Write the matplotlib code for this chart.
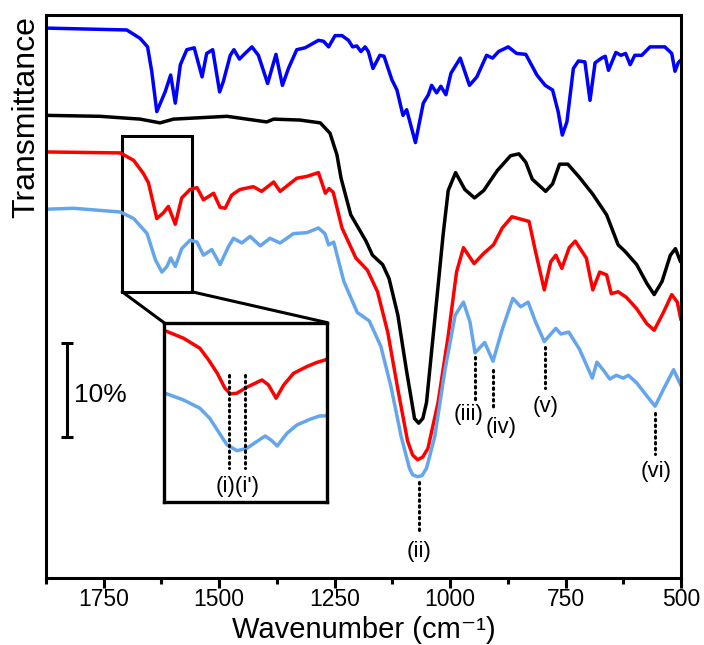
import matplotlib
matplotlib.use("Agg")
import matplotlib.pyplot as plt
from matplotlib.patches import Rectangle, ConnectionPatch
from matplotlib.ticker import MultipleLocator

plt.rcParams['font.family'] = ['Liberation Sans', 'DejaVu Sans']

# spectra: wavenumber (cm-1) and offset transmittance (%)
blue_wn = [1873, 1700, 1671, 1655, 1646, 1635, 1617, 1605, 1595, 1584, 1570, 1554, 1537, 1527,
           1514, 1499, 1491, 1476, 1468, 1456, 1446, 1429, 1415, 1395, 1377, 1363, 1350, 1332,
           1314, 1303, 1285, 1274, 1263, 1249, 1234, 1220, 1211, 1202, 1193, 1184, 1177, 1167,
           1152, 1143, 1126, 1115, 1102, 1094, 1075, 1058, 1047, 1040, 1029, 1020, 1009, 998,
           978, 958, 942, 921, 908, 895, 874, 856, 836, 812, 794, 778, 766, 757, 747, 733, 722,
           708, 697, 686, 672, 664, 657, 641, 630, 620, 610, 600, 585, 567, 553, 535, 520, 513,
           506, 500]
blue_t = [58.6, 58.4, 57.5, 56.6, 54.0, 49.7, 51.8, 53.6, 50.6, 54.7, 56.3, 56.5, 53.4, 55.9,
          56.3, 51.8, 52.9, 55.7, 56.3, 55.3, 55.8, 56.6, 55.7, 52.7, 55.8, 52.5, 54.3, 56.3,
          56.5, 56.8, 57.3, 57.2, 56.6, 57.8, 57.8, 57.3, 56.6, 56.7, 56.1, 56.6, 56.1, 54.3,
          55.7, 55.6, 53.1, 52.0, 49.3, 49.9, 46.4, 50.6, 51.5, 52.5, 51.7, 52.4, 51.5, 53.8,
          55.4, 52.5, 53.4, 55.7, 55.4, 56.1, 56.6, 55.9, 55.8, 53.6, 52.5, 52.0, 49.7, 47.2,
          48.6, 54.3, 55.1, 55.0, 50.9, 54.9, 55.4, 55.6, 54.1, 56.0, 55.7, 55.9, 54.7, 55.7,
          55.7, 56.6, 56.6, 56.6, 55.9, 54.0, 54.9, 55.2]

black_wn = [1873, 1758, 1671, 1628, 1599, 1483, 1397, 1382, 1325, 1281, 1260, 1245, 1236, 1215,
            1182, 1168, 1146, 1132, 1113, 1095, 1081, 1077, 1068, 1059, 1051, 1033, 1015, 1004,
            988, 968, 947, 927, 898, 869, 851, 836, 822, 793, 778, 763, 745, 720, 691, 661, 636,
            621, 596, 574, 558, 541, 523, 512, 501]
black_t = [49.3, 49.2, 48.9, 48.5, 48.9, 49.2, 48.6, 48.9, 48.8, 48.5, 47.4, 45.1, 42.6, 38.7,
           35.9, 34.4, 33.4, 31.9, 28.0, 22.3, 18.2, 17.0, 16.5, 17.0, 18.7, 27.6, 36.6, 41.3,
           43.2, 41.4, 40.5, 41.3, 43.4, 45.0, 45.2, 44.3, 42.5, 41.2, 42.0, 44.1, 44.1, 42.7,
           40.9, 38.7, 35.5, 34.8, 33.4, 31.4, 30.2, 31.6, 34.4, 35.1, 33.7]

red_wn = [1873, 1714, 1685, 1664, 1653, 1635, 1621, 1610, 1595, 1581, 1563, 1548, 1534, 1512,
          1498, 1487, 1473, 1455, 1426, 1408, 1382, 1368, 1332, 1310, 1285, 1270, 1262, 1253,
          1234, 1204, 1179, 1157, 1135, 1113, 1092, 1081, 1070, 1059, 1048, 1026, 1004, 986,
          971, 948, 927, 906, 887, 866, 844, 829, 815, 796, 782, 771, 758, 742, 729, 705, 691,
          676, 661, 651, 636, 618, 596, 574, 558, 538, 520, 508, 500]
red_t = [45.4, 45.3, 44.5, 43.1, 42.1, 38.3, 38.9, 39.6, 37.7, 40.5, 41.4, 41.6, 40.3, 41.0,
         39.5, 39.4, 40.8, 41.4, 41.7, 41.2, 42.2, 41.2, 42.6, 42.8, 43.2, 41.0, 41.5, 41.1,
         37.3, 34.1, 32.8, 30.5, 26.2, 20.1, 14.6, 13.1, 12.6, 12.9, 13.8, 18.7, 25.8, 32.6,
         35.2, 33.5, 34.6, 35.5, 37.3, 38.5, 38.2, 38.0, 34.8, 30.7, 33.7, 34.4, 33.0, 35.2,
         35.9, 34.1, 30.7, 32.6, 32.3, 30.3, 30.5, 29.9, 28.7, 27.1, 26.4, 28.3, 30.2, 29.4,
         27.5]

lblue_wn = [1873, 1815, 1714, 1685, 1656, 1638, 1624, 1613, 1605, 1595, 1581, 1563, 1548, 1534,
            1516, 1498, 1480, 1469, 1451, 1433, 1411, 1390, 1368, 1339, 1310, 1285, 1271, 1263,
            1252, 1230, 1201, 1175, 1150, 1128, 1106, 1088, 1081, 1071, 1061, 1051, 1033, 1011,
            989, 971, 957, 946, 925, 907, 887, 864, 847, 831, 815, 796, 771, 760, 743, 720, 692,
            682, 669, 654, 640, 625, 614, 596, 574, 556, 538, 516, 500]
lblue_t = [39.3, 39.4, 39.0, 38.3, 36.7, 33.9, 32.6, 33.2, 34.1, 33.2, 35.1, 36.0, 35.8, 34.4,
           35.0, 33.4, 35.3, 36.2, 35.7, 36.4, 35.4, 36.2, 35.7, 36.7, 36.8, 37.3, 36.7, 35.5,
           35.8, 31.6, 28.3, 27.4, 24.7, 20.4, 15.1, 11.7, 11.0, 10.8, 10.9, 11.7, 15.1, 22.2,
           28.0, 29.4, 27.3, 24.0, 25.1, 23.1, 26.5, 29.8, 28.9, 29.4, 27.3, 25.2, 26.6, 26.0,
           26.2, 24.4, 21.3, 23.0, 22.2, 21.2, 21.6, 21.3, 21.6, 20.8, 19.4, 18.3, 20.1, 22.2,
           20.5]

# zoomed region (inset), its own scale
ins_red_wn = [1709, 1692, 1677, 1669, 1661, 1654, 1649, 1643, 1634, 1620, 1614, 1607, 1600,
              1591, 1579, 1570, 1562, 1560]
ins_red_t = [9.55, 9.13, 8.57, 7.92, 7.17, 6.34, 6.02, 6.06, 6.39, 6.80, 6.52, 5.78, 6.52,
             7.17, 7.54, 7.77, 7.92, 7.97]
ins_blue_wn = [1709, 1692, 1677, 1668, 1659, 1652, 1643, 1634, 1625, 1617, 1611, 1606, 1597,
               1588, 1576, 1567, 1562, 1560]
ins_blue_t = [6.06, 5.68, 5.22, 4.66, 3.82, 3.17, 2.85, 2.98, 3.35, 3.67, 3.41, 3.11, 3.82,
              4.28, 4.60, 4.79, 4.79, 4.84]

# peak markers: position, dotted span, label position
peak_labels = ['(ii)', '(iii)', '(iv)', '(v)', '(vi)']
peak_wn = [1068, 946, 906, 795, 556]
peak_top = [10.2, 23.5, 22.2, 24.6, 17.6]
peak_bottom = [4.9, 19.0, 17.9, 20.2, 13.2]
label_wn = [1068, 960, 890, 794, 554]
label_t = [2.8, 17.4, 16.0, 18.3, 11.3]

ins_peak_wn = [1650, 1636]


def main():
    fig = plt.figure(figsize=(7.04, 6.45), dpi=100)
    ax = fig.add_axes([0.0653, 0.1039, 0.9020, 0.8729])

    lw = 2.5
    style = dict(lw=lw, solid_joinstyle='round', solid_capstyle='round')
    ax.plot(blue_wn, blue_t, color='#0000FF', **style)
    ax.plot(black_wn, black_t, color='black', **style)
    ax.plot(red_wn, red_t, color='#FF0000', **style)
    ax.plot(lblue_wn, lblue_t, color='#64A5EC', **style)

    for w, t0, t1 in zip(peak_wn, peak_top, peak_bottom):
        ax.plot([w, w], [t0, t1], color='black', lw=2.2, ls=(0, (0.5, 1.4)),
                dash_capstyle='round')
    for s, w, t in zip(peak_labels, label_wn, label_t):
        ax.text(w, t, s, ha='center', va='center', fontsize=16)

    # 10 % scale bar
    ax.errorbar([1830], [20], yerr=[5], color='black', lw=2.2, capsize=4.5, capthick=2.2)
    ax.text(1815, 19.5, '10%', ha='left', va='center', fontsize=19)

    # box around zoomed region
    ax.add_patch(Rectangle((1559, 30.5), 151, 16.6, fill=False, ec='black', lw=2.2))

    axins = ax.inset_axes([0.1858, 0.1355, 0.2572, 0.318])
    axins.plot(ins_red_wn, ins_red_t, color='#FF0000', **style)
    axins.plot(ins_blue_wn, ins_blue_t, color='#64A5EC', **style)
    for w in ins_peak_wn:
        axins.plot([w, w], [7.08, 1.87], color='black', lw=2.2, ls=(0, (0.5, 1.4)),
                   dash_capstyle='round')
    axins.text(1642, 0.84, "(i)(i')", ha='center', va='center', fontsize=16)
    axins.set_xlim(1710, 1560)
    axins.set_ylim(0, 10)
    axins.set_xticks([])
    axins.set_yticks([])
    for sp in axins.spines.values():
        sp.set_linewidth(2.4)

    for xa, xb in [((1710, 30.5), (0, 1)), ((1559, 30.5), (1, 1))]:
        con = ConnectionPatch(xyA=xa, coordsA=ax.transData, xyB=xb, coordsB=axins.transAxes,
                              color='black', lw=2.2)
        fig.add_artist(con)

    ax.set_xlim(1875, 500)
    ax.set_ylim(0, 60)
    ax.xaxis.set_major_locator(MultipleLocator(250))
    ax.xaxis.set_minor_locator(MultipleLocator(125))
    ax.set_yticks([])
    ax.tick_params(axis='x', which='major', length=7, width=2.2, labelsize=16.5, pad=0.5)
    ax.tick_params(axis='x', which='minor', length=4.5, width=2.2)
    for sp in ax.spines.values():
        sp.set_linewidth(2.2)

    ax.set_xlabel('Wavenumber (cm\u207b\u00b9)', fontsize=21)
    ax.xaxis.label.set_verticalalignment('baseline')
    ax.xaxis.set_label_coords(0.5, -0.1066)
    ax.set_ylabel('Transmittance', fontsize=23)
    ax.yaxis.set_label_coords(-0.008, 0.819)

    fig.savefig('out.png', dpi=100)


if __name__ == "__main__":
    main()
